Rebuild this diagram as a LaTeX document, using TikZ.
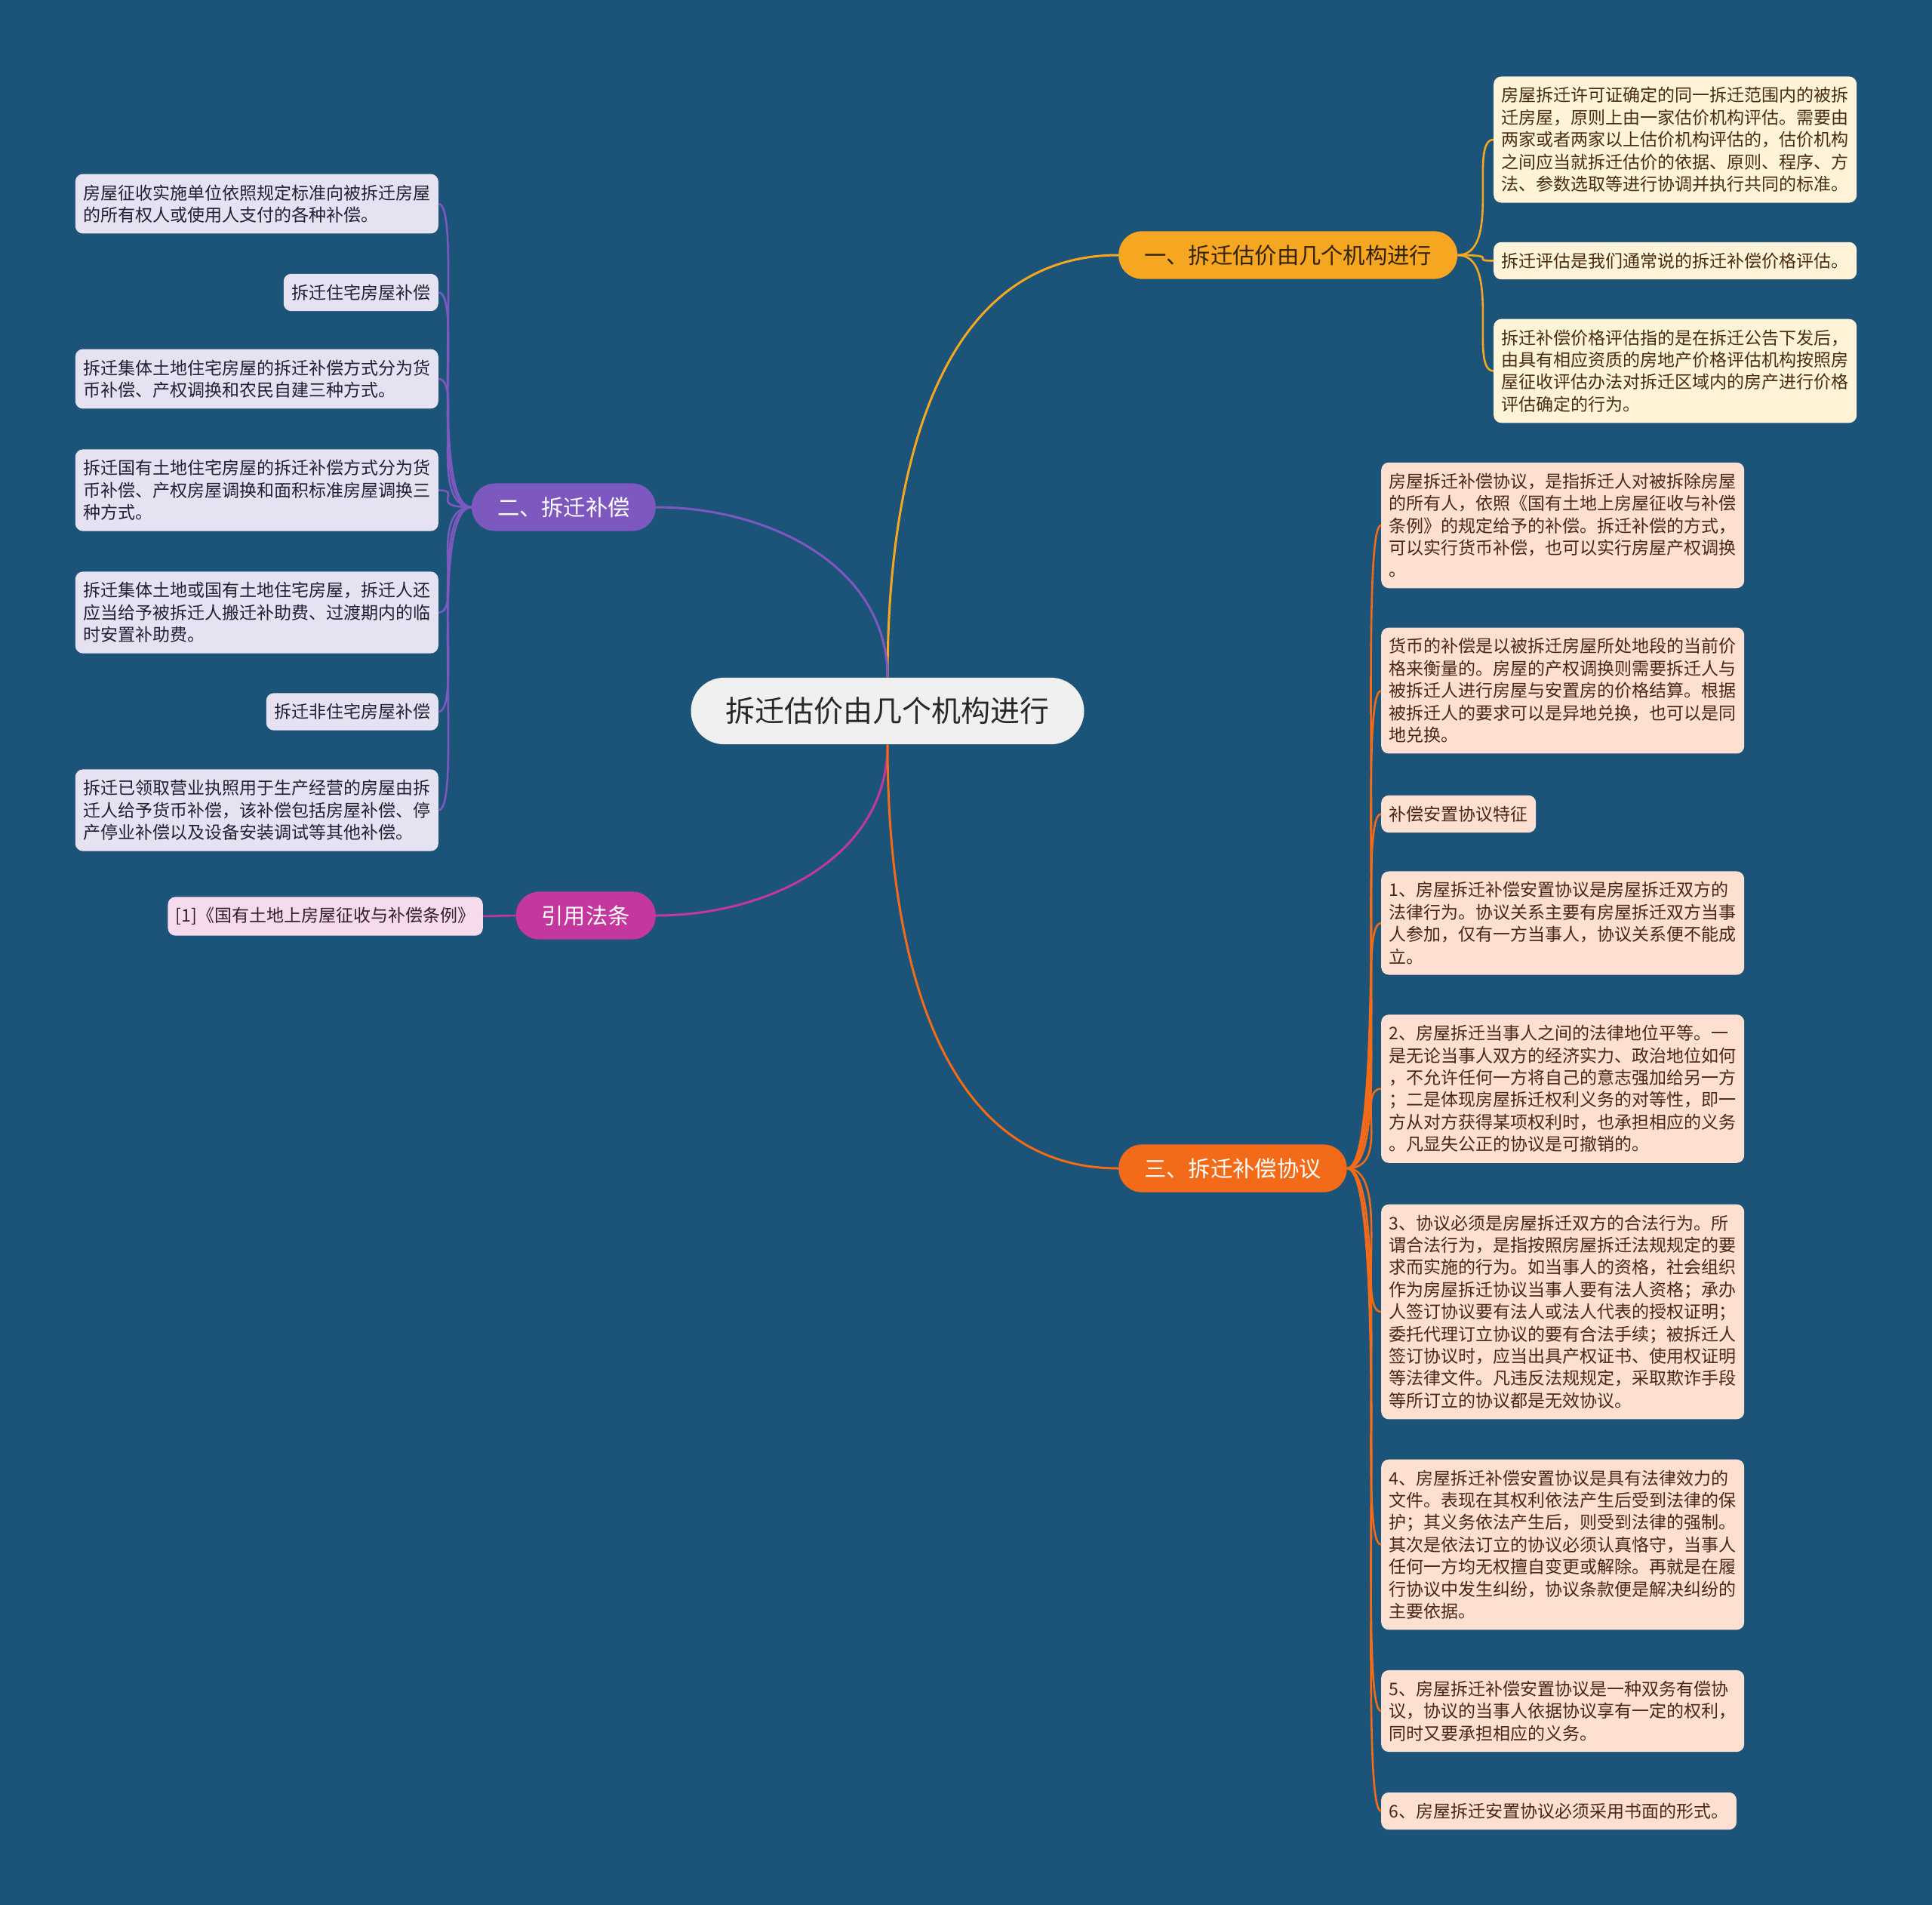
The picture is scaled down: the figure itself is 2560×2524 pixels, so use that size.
\documentclass[tikz,border=0pt]{standalone}
\usepackage{fontspec}
\setmainfont{Noto Sans CJK SC}
\usetikzlibrary{positioning}

\definecolor{bgblue}{RGB}{27,84,120}
\definecolor{rootfill}{RGB}{240,240,240}
\definecolor{roottext}{RGB}{40,40,40}
\definecolor{gold}{RGB}{246,166,32}
\definecolor{goldtext}{RGB}{50,35,15}
\definecolor{goldleaf}{RGB}{255,243,216}
\definecolor{goldleaftext}{RGB}{72,45,18}
\definecolor{violet}{RGB}{125,88,190}
\definecolor{violetleaf}{RGB}{230,226,242}
\definecolor{violetleaftext}{RGB}{35,32,50}
\definecolor{berry}{RGB}{196,55,158}
\definecolor{berryleaf}{RGB}{246,219,238}
\definecolor{berryleaftext}{RGB}{50,30,45}
\definecolor{flame}{RGB}{243,106,24}
\definecolor{flameleaf}{RGB}{253,224,210}
\definecolor{flameleaftext}{RGB}{75,38,26}

\begin{document}
\begin{tikzpicture}[x=1pt,y=1pt,
  root/.style={fill=rootfill,text=roottext,rounded corners=44pt,inner xsep=46pt,inner ysep=26pt,font=\fontsize{39}{47}\selectfont},
  branch/.style={rounded corners=31pt,inner xsep=34pt,inner ysep=18pt,font=\fontsize{29.3}{35}\selectfont},
  leaf/.style={rounded corners=10pt,inner xsep=10.5pt,inner ysep=14pt,align=left,font=\fontsize{23}{29.4}\selectfont},
  link/.style={line width=3pt},
  twig/.style={line width=2.6pt}
]
\fill[bgblue] (0,0) rectangle (2560,-2524);
\useasboundingbox (0,0) rectangle (2560,-2524);

% centre
\node[root] (root) at (1176,-942) {拆迁估价由几个机构进行};

% main branches
\node[branch,fill=gold,text=goldtext,anchor=west] (gujia) at (1482,-338) {一、拆迁估价由几个机构进行};
\node[branch,fill=violet,text=white,anchor=east] (buchang) at (869,-672) {二、拆迁补偿};
\node[branch,fill=berry,text=white,anchor=east] (fatiao) at (869,-1213) {引用法条};
\node[branch,fill=flame,text=white,anchor=west] (xieyi) at (1482,-1548) {三、拆迁补偿协议};

\draw[link,gold] (root.north) to[out=90,in=180] (gujia.west);
\draw[link,violet] (root.north) to[out=90,in=0] (buchang.east);
\draw[link,berry] (root.south) to[out=-90,in=0] (fatiao.east);
\draw[link,flame] (root.south) to[out=-90,in=180] (xieyi.west);

% 一、估价
\tikzset{goldbox/.style={leaf,fill=goldleaf,text=goldleaftext,anchor=west}}
\node[goldbox] (gj1) at (1979,-185) {房屋拆迁许可证确定的同一拆迁范围内的被拆\\迁房屋，原则上由一家估价机构评估。需要由\\两家或者两家以上估价机构评估的，估价机构\\之间应当就拆迁估价的依据、原则、程序、方\\法、参数选取等进行协调并执行共同的标准。};
\node[goldbox] (gj2) at (1979,-345.5) {拆迁评估是我们通常说的拆迁补偿价格评估。};
\node[goldbox] (gj3) at (1979,-491.5) {拆迁补偿价格评估指的是在拆迁公告下发后，\\由具有相应资质的房地产价格评估机构按照房\\屋征收评估办法对拆迁区域内的房产进行价格\\评估确定的行为。};
\foreach \n in {gj1,gj2,gj3}
  \draw[twig,gold] (gujia.east) .. controls +(60,0) and +(-34,0) .. (\n.west);

% 二、补偿
\tikzset{violetbox/.style={leaf,fill=violetleaf,text=violetleaftext,anchor=east}}
\node[violetbox] (bc1) at (581,-270) {房屋征收实施单位依照规定标准向被拆迁房屋\\的所有权人或使用人支付的各种补偿。};
\node[violetbox] (bc2) at (581,-387.5) {拆迁住宅房屋补偿};
\node[violetbox] (bc3) at (581,-502) {拆迁集体土地住宅房屋的拆迁补偿方式分为货\\币补偿、产权调换和农民自建三种方式。};
\node[violetbox] (bc4) at (581,-649.5) {拆迁国有土地住宅房屋的拆迁补偿方式分为货\\币补偿、产权房屋调换和面积标准房屋调换三\\种方式。};
\node[violetbox] (bc5) at (581,-811.5) {拆迁集体土地或国有土地住宅房屋，拆迁人还\\应当给予被拆迁人搬迁补助费、过渡期内的临\\时安置补助费。};
\node[violetbox] (bc6) at (581,-943) {拆迁非住宅房屋补偿};
\node[violetbox] (bc7) at (581,-1073.5) {拆迁已领取营业执照用于生产经营的房屋由拆\\迁人给予货币补偿，该补偿包括房屋补偿、停\\产停业补偿以及设备安装调试等其他补偿。};
\foreach \n in {bc1,bc2,bc3,bc4,bc5,bc6,bc7}
  \draw[twig,violet] (buchang.west) .. controls +(-60,0) and +(34,0) .. (\n.east);

% 引用法条
\node[leaf,fill=berryleaf,text=berryleaftext,anchor=east] (ft1) at (640,-1214) {[1]《国有土地上房屋征收与补偿条例》};
\draw[twig,berry] (fatiao.west) -- (ft1.east);

% 三、协议
\tikzset{flamebox/.style={leaf,fill=flameleaf,text=flameleaftext,anchor=west}}
\node[flamebox] (xy1) at (1830,-696) {房屋拆迁补偿协议，是指拆迁人对被拆除房屋\\的所有人，依照《国有土地上房屋征收与补偿\\条例》的规定给予的补偿。拆迁补偿的方式，\\可以实行货币补偿，也可以实行房屋产权调换\\。};
\node[flamebox] (xy2) at (1830,-915) {货币的补偿是以被拆迁房屋所处地段的当前价\\格来衡量的。房屋的产权调换则需要拆迁人与\\被拆迁人进行房屋与安置房的价格结算。根据\\被拆迁人的要求可以是异地兑换，也可以是同\\地兑换。};
\node[flamebox] (xy3) at (1830,-1078.5) {补偿安置协议特征};
\node[flamebox] (xy4) at (1830,-1223) {1、房屋拆迁补偿安置协议是房屋拆迁双方的\\法律行为。协议关系主要有房屋拆迁双方当事\\人参加，仅有一方当事人，协议关系便不能成\\立。};
\node[flamebox] (xy5) at (1830,-1442.5) {2、房屋拆迁当事人之间的法律地位平等。一\\是无论当事人双方的经济实力、政治地位如何\\，不允许任何一方将自己的意志强加给另一方\\；二是体现房屋拆迁权利义务的对等性，即一\\方从对方获得某项权利时，也承担相应的义务\\。凡显失公正的协议是可撤销的。};
\node[flamebox] (xy6) at (1830,-1738) {3、协议必须是房屋拆迁双方的合法行为。所\\谓合法行为，是指按照房屋拆迁法规规定的要\\求而实施的行为。如当事人的资格，社会组织\\作为房屋拆迁协议当事人要有法人资格；承办\\人签订协议要有法人或法人代表的授权证明；\\委托代理订立协议的要有合法手续；被拆迁人\\签订协议时，应当出具产权证书、使用权证明\\等法律文件。凡违反法规规定，采取欺诈手段\\等所订立的协议都是无效协议。};
\node[flamebox] (xy7) at (1830,-2046.5) {4、房屋拆迁补偿安置协议是具有法律效力的\\文件。表现在其权利依法产生后受到法律的保\\护；其义务依法产生后，则受到法律的强制。\\其次是依法订立的协议必须认真恪守，当事人\\任何一方均无权擅自变更或解除。再就是在履\\行协议中发生纠纷，协议条款便是解决纠纷的\\主要依据。};
\node[flamebox] (xy8) at (1830,-2267) {5、房屋拆迁补偿安置协议是一种双务有偿协\\议，协议的当事人依据协议享有一定的权利，\\同时又要承担相应的义务。};
\node[flamebox] (xy9) at (1830,-2399.5) {6、房屋拆迁安置协议必须采用书面的形式。};
\foreach \n in {xy1,xy2,xy3,xy4,xy5,xy6,xy7,xy8,xy9}
  \draw[twig,flame] (xieyi.east) .. controls +(60,0) and +(-34,0) .. (\n.west);
\end{tikzpicture}
\end{document}
